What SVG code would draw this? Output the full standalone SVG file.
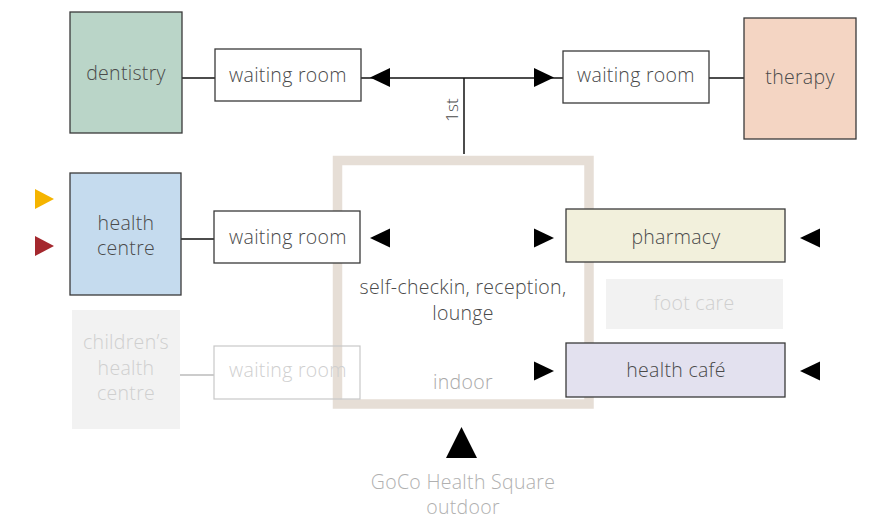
<svg xmlns="http://www.w3.org/2000/svg" width="870" height="519" viewBox="0 0 870 519">
<style>
text{font-family:"Open Sans","Liberation Sans",sans-serif;font-weight:300;font-size:19.5px;letter-spacing:0.3px;fill:#4a4a4a;text-anchor:middle}
.box{stroke:#3a3a3a;stroke-width:1.3}
.line{stroke:#111;stroke-width:1.5;fill:none}
.tri{fill:#000}
</style>
<rect width="870" height="519" fill="#fff"/>
<g id="indoor">
<rect x="337.5" y="160.5" width="251.5" height="243.5" fill="none" stroke="#e6ded6" stroke-width="9.5"/>
<text x="463" y="294">self-checkin, reception,</text>
<text x="463" y="320">lounge</text>
<text x="463" y="389" style="fill:#a9a9a9">indoor</text>
</g>
<g id="connectors">
<line class="line" x1="182" y1="78" x2="215" y2="78"/>
<line class="line" x1="361" y1="78" x2="563" y2="78"/>
<line class="line" x1="464" y1="78" x2="464" y2="154"/>
<line class="line" x1="709" y1="78" x2="744" y2="78"/>
<line class="line" x1="181" y1="239" x2="214" y2="239"/>
<line x1="180" y1="375" x2="214" y2="375" stroke="#999" stroke-width="1.2"/>
<polygon class="tri" points="370,77.5 390,68 390,87"/>
<polygon class="tri" points="554,77.5 534,68 534,87"/>
<polygon class="tri" points="370,238 390,228.5 390,247.5"/>
<polygon class="tri" points="554,238 534,228.5 534,247.5"/>
<polygon class="tri" points="800,238 820,228.5 820,247.5"/>
<polygon class="tri" points="554,371 534,361.5 534,380.5"/>
<polygon class="tri" points="800,371 820,361.5 820,380.5"/>
<polygon points="35,189 54,199 35,209" fill="#f5b400"/>
<polygon points="35,236 54,246 35,256" fill="#a4282e"/>
<polygon class="tri" points="446,458 461.5,427 477,458"/>
<text x="452" y="110" transform="rotate(-90 452 110)" style="font-size:17px" dy="6">1st</text>
</g>
<g id="dentistry"><rect class="box" x="70" y="12" width="112" height="121" fill="#bad5c8"/><text x="126" y="80">dentistry</text></g>
<g id="waiting-room-1"><rect class="box" x="215" y="49" width="146" height="52" fill="#fff"/><text x="288" y="82">waiting room</text></g>
<g id="waiting-room-2"><rect class="box" x="563" y="51" width="146" height="52" fill="#fff"/><text x="636" y="82">waiting room</text></g>
<g id="therapy"><rect class="box" x="744" y="18" width="112" height="121" fill="#f4d5c3"/><text x="800" y="84">therapy</text></g>
<g id="health-centre"><rect class="box" x="70" y="173" width="111" height="122" fill="#c5dbee"/><text x="126" y="230">health</text><text x="126" y="255">centre</text></g>
<g id="waiting-room-3"><rect class="box" x="214" y="211" width="146" height="52" fill="#fff"/><text x="288" y="244">waiting room</text></g>
<g id="pharmacy"><rect class="box" x="566" y="209" width="219" height="53" fill="#f2f0dc"/><text x="676" y="244">pharmacy</text></g>
<g id="foot-care"><rect x="606" y="279" width="177" height="50" fill="#f2f2f2"/><text x="694" y="310" style="fill:#cfcfcf">foot care</text></g>
<g id="health-cafe"><rect class="box" x="566" y="343" width="219" height="54" fill="#e3e1ef"/><text x="676" y="377">health café</text></g>
<g id="childrens-health-centre"><rect x="72" y="310" width="108" height="119" fill="#f2f2f2"/><text x="126" y="349" style="fill:#cfcfcf">children’s</text><text x="126" y="375" style="fill:#cfcfcf">health</text><text x="126" y="400" style="fill:#cfcfcf">centre</text></g>
<g id="waiting-room-4"><rect x="214" y="346" width="146" height="53" fill="none" stroke="#c8c8c8" stroke-width="1.2"/><text x="288" y="377" style="fill:#cfcfcf">waiting room</text></g>
<g id="outdoor"><text x="463" y="489" style="fill:#b0b0b0">GoCo Health Square</text><text x="463" y="513.5" style="fill:#b0b0b0">outdoor</text></g>
</svg>
